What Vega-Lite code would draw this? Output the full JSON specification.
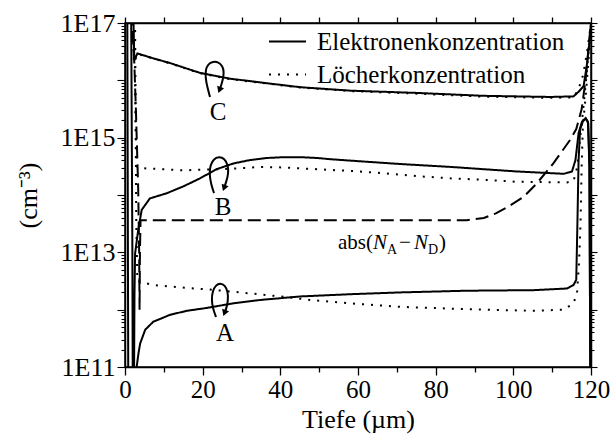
{
  "$schema": "https://vega.github.io/schema/vega-lite/v6.json",
  "width": 466,
  "height": 344,
  "autosize": {"type": "none"},
  "padding": {"left": 125, "top": 23, "right": 24, "bottom": 76},
  "background": "white",
  "title": {"text": "(a)", "fontSize": 26, "fontWeight": "normal", "color": "black", "anchor": "middle", "baseline": "alphabetic", "offset": 16, "dx": -55},
  "config": {
    "view": {"stroke": "black", "strokeWidth": 1.5},
    "font": "Liberation Serif, Times New Roman, serif",
    "axis": {"labelFont": "Liberation Serif, Times New Roman, serif", "titleFont": "Liberation Serif, Times New Roman, serif", "labelFontWeight": "normal", "titleFontWeight": "normal"},
    "legend": {"labelFont": "Liberation Serif, Times New Roman, serif", "titleFont": "Liberation Serif, Times New Roman, serif"},
    "title": {"font": "Liberation Serif, Times New Roman, serif"},
    "text": {"font": "Liberation Serif, Times New Roman, serif", "color": "black"}
  },
  "datasets": {
    "profiles": [
      {"s": "n", "c": "A", "x": 0, "y": 2e17}, {"s": "n", "c": "A", "x": 0.6, "y": 1e17}, {"s": "n", "c": "A", "x": 0.75, "y": 1e13}, {"s": "n", "c": "A", "x": 0.85, "y": 3.2e10}, {"s": "n", "c": "A", "x": 2.5, "y": 3.2e10}, {"s": "n", "c": "A", "x": 3.0, "y": 1e11}, {"s": "n", "c": "A", "x": 3.5, "y": 1.78e11}, {"s": "n", "c": "A", "x": 3.9, "y": 2.57e11}, {"s": "n", "c": "A", "x": 5.2, "y": 4.47e11}, {"s": "n", "c": "A", "x": 7.3, "y": 6.17e11}, {"s": "n", "c": "A", "x": 11.6, "y": 8.13e11}, {"s": "n", "c": "A", "x": 15.9, "y": 9.55e11}, {"s": "n", "c": "A", "x": 21, "y": 1.07e12}, {"s": "n", "c": "A", "x": 27.9, "y": 1.29e12}, {"s": "n", "c": "A", "x": 35, "y": 1.48e12}, {"s": "n", "c": "A", "x": 45.1, "y": 1.7e12}, {"s": "n", "c": "A", "x": 58, "y": 1.86e12}, {"s": "n", "c": "A", "x": 70.9, "y": 2.0e12}, {"s": "n", "c": "A", "x": 88, "y": 2.14e12}, {"s": "n", "c": "A", "x": 105.2, "y": 2.19e12}, {"s": "n", "c": "A", "x": 113.8, "y": 2.34e12}, {"s": "n", "c": "A", "x": 115.5, "y": 2.69e12}, {"s": "n", "c": "A", "x": 116.2, "y": 3.31e12}, {"s": "n", "c": "A", "x": 116.5, "y": 3.16e13}, {"s": "n", "c": "A", "x": 116.8, "y": 3.98e14}, {"s": "n", "c": "A", "x": 117.2, "y": 1.41e15}, {"s": "n", "c": "A", "x": 118, "y": 2.0e15}, {"s": "n", "c": "A", "x": 118.7, "y": 2.14e15}, {"s": "n", "c": "A", "x": 119.3, "y": 1.78e15}, {"s": "n", "c": "A", "x": 119.6, "y": 3.16e14}, {"s": "n", "c": "A", "x": 119.75, "y": 1e12}, {"s": "n", "c": "A", "x": 119.85, "y": 3.2e10},
      {"s": "n", "c": "B", "x": 0, "y": 2e17}, {"s": "n", "c": "B", "x": 1.6, "y": 1e17}, {"s": "n", "c": "B", "x": 1.9, "y": 1e13}, {"s": "n", "c": "B", "x": 2.0, "y": 3.2e10}, {"s": "n", "c": "B", "x": 2.3, "y": 3.2e10}, {"s": "n", "c": "B", "x": 2.45, "y": 2.0e12}, {"s": "n", "c": "B", "x": 2.6, "y": 9.55e12}, {"s": "n", "c": "B", "x": 3.4, "y": 2.45e13}, {"s": "n", "c": "B", "x": 4.3, "y": 5.5e13}, {"s": "n", "c": "B", "x": 6.4, "y": 8.71e13}, {"s": "n", "c": "B", "x": 10.7, "y": 1.07e14}, {"s": "n", "c": "B", "x": 15, "y": 1.41e14}, {"s": "n", "c": "B", "x": 19.3, "y": 1.95e14}, {"s": "n", "c": "B", "x": 23.6, "y": 2.82e14}, {"s": "n", "c": "B", "x": 27.9, "y": 3.55e14}, {"s": "n", "c": "B", "x": 32.2, "y": 4.07e14}, {"s": "n", "c": "B", "x": 36.5, "y": 4.42e14}, {"s": "n", "c": "B", "x": 40.8, "y": 4.57e14}, {"s": "n", "c": "B", "x": 45.1, "y": 4.57e14}, {"s": "n", "c": "B", "x": 49.4, "y": 4.42e14}, {"s": "n", "c": "B", "x": 53.7, "y": 4.17e14}, {"s": "n", "c": "B", "x": 62.3, "y": 3.8e14}, {"s": "n", "c": "B", "x": 70.9, "y": 3.47e14}, {"s": "n", "c": "B", "x": 83.8, "y": 3.09e14}, {"s": "n", "c": "B", "x": 101, "y": 2.57e14}, {"s": "n", "c": "B", "x": 113, "y": 2.34e14}, {"s": "n", "c": "B", "x": 115.1, "y": 2.57e14}, {"s": "n", "c": "B", "x": 116, "y": 4.07e14}, {"s": "n", "c": "B", "x": 116.8, "y": 1.2e15}, {"s": "n", "c": "B", "x": 117.7, "y": 1.91e15}, {"s": "n", "c": "B", "x": 118.6, "y": 2.19e15}, {"s": "n", "c": "B", "x": 119.2, "y": 1.91e15}, {"s": "n", "c": "B", "x": 119.6, "y": 3.16e14}, {"s": "n", "c": "B", "x": 119.75, "y": 1e12}, {"s": "n", "c": "B", "x": 119.85, "y": 3.2e10},
      {"s": "n", "c": "C", "x": 0, "y": 2e17}, {"s": "n", "c": "C", "x": 2.2, "y": 1e17}, {"s": "n", "c": "C", "x": 2.4, "y": 2.24e16}, {"s": "n", "c": "C", "x": 3.2, "y": 2.95e16}, {"s": "n", "c": "C", "x": 7, "y": 2.45e16}, {"s": "n", "c": "C", "x": 11.6, "y": 2.0e16}, {"s": "n", "c": "C", "x": 19.3, "y": 1.35e16}, {"s": "n", "c": "C", "x": 27, "y": 1.07e16}, {"s": "n", "c": "C", "x": 36.5, "y": 8.91e15}, {"s": "n", "c": "C", "x": 45.1, "y": 7.59e15}, {"s": "n", "c": "C", "x": 58, "y": 6.61e15}, {"s": "n", "c": "C", "x": 75.2, "y": 6.03e15}, {"s": "n", "c": "C", "x": 92.3, "y": 5.37e15}, {"s": "n", "c": "C", "x": 109.5, "y": 5.13e15}, {"s": "n", "c": "C", "x": 115.5, "y": 5.25e15}, {"s": "n", "c": "C", "x": 116.8, "y": 6.31e15}, {"s": "n", "c": "C", "x": 118.1, "y": 7.94e15}, {"s": "n", "c": "C", "x": 119, "y": 2.0e16}, {"s": "n", "c": "C", "x": 119.5, "y": 3.98e16}, {"s": "n", "c": "C", "x": 120, "y": 1e17},
      {"s": "p", "c": "A", "x": 0, "y": 2e17}, {"s": "p", "c": "A", "x": 2.6, "y": 1e17}, {"s": "p", "c": "A", "x": 2.9, "y": 3.16e13}, {"s": "p", "c": "A", "x": 3.2, "y": 3.16e12}, {"s": "p", "c": "A", "x": 7.3, "y": 2.69e12}, {"s": "p", "c": "A", "x": 15.9, "y": 2.4e12}, {"s": "p", "c": "A", "x": 21.9, "y": 2.24e12}, {"s": "p", "c": "A", "x": 29.6, "y": 2.0e12}, {"s": "p", "c": "A", "x": 40, "y": 1.7e12}, {"s": "p", "c": "A", "x": 47.7, "y": 1.48e12}, {"s": "p", "c": "A", "x": 58, "y": 1.29e12}, {"s": "p", "c": "A", "x": 70.9, "y": 1.12e12}, {"s": "p", "c": "A", "x": 88, "y": 1.02e12}, {"s": "p", "c": "A", "x": 105.2, "y": 9.55e11}, {"s": "p", "c": "A", "x": 113, "y": 1.0e12}, {"s": "p", "c": "A", "x": 115.5, "y": 1.29e12}, {"s": "p", "c": "A", "x": 116.4, "y": 1.95e12}, {"s": "p", "c": "A", "x": 116.9, "y": 6.31e12}, {"s": "p", "c": "A", "x": 117.3, "y": 3.16e13}, {"s": "p", "c": "A", "x": 117.6, "y": 3.16e14}, {"s": "p", "c": "A", "x": 117.9, "y": 1.58e15}, {"s": "p", "c": "A", "x": 118.6, "y": 5.01e15}, {"s": "p", "c": "A", "x": 119.3, "y": 2.0e16}, {"s": "p", "c": "A", "x": 120, "y": 1e17},
      {"s": "p", "c": "B", "x": 0, "y": 2e17}, {"s": "p", "c": "B", "x": 2.4, "y": 1e17}, {"s": "p", "c": "B", "x": 2.8, "y": 1e15}, {"s": "p", "c": "B", "x": 3.0, "y": 3.16e14}, {"s": "p", "c": "B", "x": 3.9, "y": 2.95e14}, {"s": "p", "c": "B", "x": 15, "y": 2.69e14}, {"s": "p", "c": "B", "x": 27.9, "y": 2.88e14}, {"s": "p", "c": "B", "x": 35, "y": 3.09e14}, {"s": "p", "c": "B", "x": 40.8, "y": 3.02e14}, {"s": "p", "c": "B", "x": 49.4, "y": 2.82e14}, {"s": "p", "c": "B", "x": 58, "y": 2.63e14}, {"s": "p", "c": "B", "x": 66.6, "y": 2.4e14}, {"s": "p", "c": "B", "x": 75, "y": 2.14e14}, {"s": "p", "c": "B", "x": 83.8, "y": 1.95e14}, {"s": "p", "c": "B", "x": 91.4, "y": 1.86e14}, {"s": "p", "c": "B", "x": 101, "y": 1.7e14}, {"s": "p", "c": "B", "x": 113.8, "y": 1.66e14}, {"s": "p", "c": "B", "x": 115.5, "y": 1.74e14}, {"s": "p", "c": "B", "x": 116.5, "y": 3.16e14}, {"s": "p", "c": "B", "x": 117.2, "y": 1e15}, {"s": "p", "c": "B", "x": 118, "y": 3.16e15}, {"s": "p", "c": "B", "x": 119, "y": 1.58e16}, {"s": "p", "c": "B", "x": 120, "y": 1e17},
      {"s": "p", "c": "C", "x": 0, "y": 2e17}, {"s": "p", "c": "C", "x": 2.0, "y": 1e17}, {"s": "p", "c": "C", "x": 2.3, "y": 2.0e16}, {"s": "p", "c": "C", "x": 3.2, "y": 2.9e16}, {"s": "p", "c": "C", "x": 7, "y": 2.43e16}, {"s": "p", "c": "C", "x": 11.6, "y": 1.98e16}, {"s": "p", "c": "C", "x": 19.3, "y": 1.33e16}, {"s": "p", "c": "C", "x": 27, "y": 1.05e16}, {"s": "p", "c": "C", "x": 36.5, "y": 8.8e15}, {"s": "p", "c": "C", "x": 45.1, "y": 7.5e15}, {"s": "p", "c": "C", "x": 58, "y": 6.5e15}, {"s": "p", "c": "C", "x": 75.2, "y": 5.85e15}, {"s": "p", "c": "C", "x": 92.3, "y": 5.2e15}, {"s": "p", "c": "C", "x": 109.5, "y": 4.95e15}, {"s": "p", "c": "C", "x": 115.5, "y": 5.05e15}, {"s": "p", "c": "C", "x": 116.8, "y": 7.08e15}, {"s": "p", "c": "C", "x": 118, "y": 1.26e16}, {"s": "p", "c": "C", "x": 119, "y": 3.16e16}, {"s": "p", "c": "C", "x": 120, "y": 1e17}
    ],
    "doping": [
      {"x": 0, "y": 3.16e17}, {"x": 1.8, "y": 1e17}, {"x": 2.4, "y": 2.0e16}, {"x": 2.8, "y": 3.16e15}, {"x": 3.1, "y": 6.31e14}, {"x": 3.4, "y": 1.26e14}, {"x": 3.65, "y": 1e13}, {"x": 3.75, "y": 1e12}, {"x": 3.85, "y": 1e13}, {"x": 4.0, "y": 3.63e13}, {"x": 88, "y": 3.63e13}, {"x": 92.4, "y": 3.98e13}, {"x": 95.5, "y": 4.79e13}, {"x": 98.3, "y": 6.03e13}, {"x": 102.7, "y": 9.33e13}, {"x": 106, "y": 1.58e14}, {"x": 110.3, "y": 3.55e14}, {"x": 114.6, "y": 9.12e14}, {"x": 116.2, "y": 1.41e15}, {"x": 117.6, "y": 3.16e15}, {"x": 118.6, "y": 1e16}, {"x": 119.4, "y": 3.98e16}, {"x": 120, "y": 1e17}
    ],
    "loops": [
      {"c": "C", "i": 0, "x": 21.89, "y": 5.13e15}, {"c": "C", "i": 1, "x": 21.25, "y": 7.36e15}, {"c": "C", "i": 2, "x": 20.73, "y": 1.10e16}, {"c": "C", "i": 3, "x": 20.73, "y": 1.51e16}, {"c": "C", "i": 4, "x": 21.38, "y": 1.93e16}, {"c": "C", "i": 5, "x": 22.66, "y": 2.13e16}, {"c": "C", "i": 6, "x": 24.08, "y": 2.09e16}, {"c": "C", "i": 7, "x": 25.11, "y": 1.78e16}, {"c": "C", "i": 8, "x": 25.50, "y": 1.40e16}, {"c": "C", "i": 9, "x": 25.24, "y": 1.05e16}, {"c": "C", "i": 10, "x": 24.72, "y": 7.96e15}, {"c": "C", "i": 11, "x": 24.34, "y": 6.79e15},
      {"c": "B", "i": 0, "x": 22.92, "y": 1.08e14}, {"c": "B", "i": 1, "x": 22.15, "y": 1.56e14}, {"c": "B", "i": 2, "x": 21.76, "y": 2.23e14}, {"c": "B", "i": 3, "x": 21.89, "y": 3.21e14}, {"c": "B", "i": 4, "x": 22.79, "y": 4.25e14}, {"c": "B", "i": 5, "x": 24.21, "y": 4.70e14}, {"c": "B", "i": 6, "x": 25.62, "y": 4.34e14}, {"c": "B", "i": 7, "x": 26.53, "y": 3.34e14}, {"c": "B", "i": 8, "x": 26.65, "y": 2.42e14}, {"c": "B", "i": 9, "x": 26.14, "y": 1.75e14}, {"c": "B", "i": 10, "x": 25.50, "y": 1.32e14},
      {"c": "A", "i": 0, "x": 23.44, "y": 7.45e11}, {"c": "A", "i": 1, "x": 22.66, "y": 1.03e12}, {"c": "A", "i": 2, "x": 22.28, "y": 1.48e12}, {"c": "A", "i": 3, "x": 22.54, "y": 2.12e12}, {"c": "A", "i": 4, "x": 23.44, "y": 2.69e12}, {"c": "A", "i": 5, "x": 24.47, "y": 2.92e12}, {"c": "A", "i": 6, "x": 25.75, "y": 2.69e12}, {"c": "A", "i": 7, "x": 26.53, "y": 2.03e12}, {"c": "A", "i": 8, "x": 26.53, "y": 1.42e12}, {"c": "A", "i": 9, "x": 26.14, "y": 1.07e12}, {"c": "A", "i": 10, "x": 25.62, "y": 8.75e11}
    ],
    "arrows": [
      {"c": "C", "x": 24.34, "y": 6.79e15}, {"c": "B", "x": 25.50, "y": 1.32e14}, {"c": "A", "x": 25.62, "y": 8.75e11}
    ],
    "cases": [
      {"txt": "C", "x": 23.95, "y": 2.81e15}, {"txt": "B", "x": 25.24, "y": 6.18e13}, {"txt": "A", "x": 25.75, "y": 3.92e11}
    ],
    "formula": [
      {"txt": "abs(", "k": "r", "x": 54.85, "y": 1.14e13}, {"txt": "N", "k": "i", "x": 63.87, "y": 1.14e13}, {"txt": "A", "k": "s", "x": 67.47, "y": 9.35e12}, {"txt": "−", "k": "r", "x": 70.56, "y": 1.14e13}, {"txt": "N", "k": "i", "x": 74.43, "y": 1.14e13}, {"txt": "D", "k": "s", "x": 78.03, "y": 9.35e12}, {"txt": ")", "k": "r", "x": 80.87, "y": 1.14e13}
    ]
  },
  "layer": [
    {
      "data": {"name": "profiles"},
      "mark": {"type": "line", "clip": true, "color": "black", "strokeWidth": 2},
      "encoding": {
        "x": {"field": "x", "type": "quantitative", "scale": {"domain": [0, 120], "nice": false, "zero": false},
          "axis": {"orient": "bottom", "values": [0, 10, 20, 30, 40, 50, 60, 70, 80, 90, 100, 110, 120],
            "labelExpr": "datum.value % 20 == 0 ? datum.label : ''",
            "tickSize": {"condition": {"test": "datum.value % 20 == 0", "value": 8}, "value": 5},
            "grid": false, "domainColor": "black", "domainWidth": 1.5, "tickColor": "black", "tickWidth": 1.3,
            "labelFont": "Liberation Serif, Times New Roman, serif", "labelFontSize": 25, "labelColor": "black", "labelPadding": 2, "labelFlush": false,
            "title": "Tiefe (µm)", "titleFont": "Liberation Serif, Times New Roman, serif", "titleFontSize": 26, "titleFontWeight": "normal", "titleColor": "black", "titlePadding": 4}},
        "y": {"field": "y", "type": "quantitative", "scale": {"type": "log", "domain": [1e11, 1e17], "nice": false},
          "axis": {"orient": "left",
            "values": [1e11, 2e11, 3e11, 4e11, 5e11, 6e11, 7e11, 8e11, 9e11, 1e12, 2e12, 3e12, 4e12, 5e12, 6e12, 7e12, 8e12, 9e12, 1e13, 2e13, 3e13, 4e13, 5e13, 6e13, 7e13, 8e13, 9e13, 1e14, 2e14, 3e14, 4e14, 5e14, 6e14, 7e14, 8e14, 9e14, 1e15, 2e15, 3e15, 4e15, 5e15, 6e15, 7e15, 8e15, 9e15, 1e16, 2e16, 3e16, 4e16, 5e16, 6e16, 7e16, 8e16, 9e16, 1e17],
            "labelExpr": "abs(log(datum.value)/LN10 - round(log(datum.value)/LN10)) < 0.001 && round(log(datum.value)/LN10) % 2 == 1 ? '1E' + round(log(datum.value)/LN10) : ''",
            "tickSize": {"condition": {"test": "abs(log(datum.value)/LN10 - round(log(datum.value)/LN10)) < 0.001", "value": 8}, "value": 4},
            "grid": false, "domainColor": "black", "domainWidth": 1.5, "tickColor": "black", "tickWidth": 1.1,
            "labelFont": "Liberation Serif, Times New Roman, serif", "labelFontSize": 26, "labelColor": "black", "labelPadding": 2, "labelFlush": false, "labelOverlap": false,
            "title": "(cm⁻³)", "titleFont": "Liberation Serif, Times New Roman, serif", "titleFontSize": 26, "titleFontWeight": "normal", "titleColor": "black", "titlePadding": 19}},
        "detail": {"field": "c", "type": "nominal"},
        "strokeDash": {"field": "s", "type": "nominal",
          "scale": {"domain": ["n", "p"], "range": [[1, 0], [2, 7]]},
          "legend": {"orient": "none", "legendX": 143, "legendY": -1, "title": null, "padding": 0,
            "labelExpr": "datum.label == 'n' ? 'Elektronenkonzentration' : 'Löcherkonzentration'",
            "symbolType": "stroke", "symbolSize": 1369, "symbolStrokeWidth": 2, "symbolStrokeColor": "black", "symbolOpacity": 1,
            "labelFont": "Liberation Serif, Times New Roman, serif", "labelFontSize": 25, "labelColor": "black", "labelOffset": 10, "labelLimit": 400, "rowPadding": -10}}
      }
    },
    {
      "data": {"name": "doping"},
      "mark": {"type": "line", "clip": true, "color": "black", "strokeWidth": 2, "strokeDash": [13, 6]},
      "encoding": {
        "x": {"field": "x", "type": "quantitative", "scale": {"domain": [0, 120], "nice": false, "zero": false},
          "axis": {"orient": "top", "values": [0, 10, 20, 30, 40, 50, 60, 70, 80, 90, 100, 110, 120], "labels": false, "tickSize": 6, "grid": false, "domainColor": "black", "domainWidth": 1.5, "tickColor": "black", "tickWidth": 1.3, "title": null}},
        "y": {"field": "y", "type": "quantitative", "scale": {"type": "log", "domain": [1e11, 1e17], "nice": false},
          "axis": {"orient": "right",
            "values": [1e11, 2e11, 3e11, 4e11, 5e11, 6e11, 7e11, 8e11, 9e11, 1e12, 2e12, 3e12, 4e12, 5e12, 6e12, 7e12, 8e12, 9e12, 1e13, 2e13, 3e13, 4e13, 5e13, 6e13, 7e13, 8e13, 9e13, 1e14, 2e14, 3e14, 4e14, 5e14, 6e14, 7e14, 8e14, 9e14, 1e15, 2e15, 3e15, 4e15, 5e15, 6e15, 7e15, 8e15, 9e15, 1e16, 2e16, 3e16, 4e16, 5e16, 6e16, 7e16, 8e16, 9e16, 1e17],
            "labels": false, "grid": false, "domainColor": "black", "domainWidth": 1.5, "tickColor": "black", "tickWidth": 1.1,
            "tickSize": {"condition": {"test": "abs(log(datum.value)/LN10 - round(log(datum.value)/LN10)) < 0.001", "value": 6}, "value": 3},
            "title": null}}
      }
    },
    {
      "data": {"name": "loops"},
      "mark": {"type": "line", "color": "black", "strokeWidth": 2, "interpolate": "basis"},
      "encoding": {
        "x": {"field": "x", "type": "quantitative", "scale": {"domain": [0, 120], "nice": false, "zero": false}, "axis": null},
        "y": {"field": "y", "type": "quantitative", "scale": {"type": "log", "domain": [1e11, 1e17], "nice": false}, "axis": null},
        "detail": {"field": "c", "type": "nominal"},
        "order": {"field": "i", "type": "quantitative"}
      }
    },
    {
      "data": {"name": "arrows"},
      "mark": {"type": "point", "shape": "triangle-down", "filled": true, "color": "black", "size": 55, "angle": 20, "opacity": 1},
      "encoding": {
        "x": {"field": "x", "type": "quantitative", "scale": {"domain": [0, 120], "nice": false, "zero": false}, "axis": null},
        "y": {"field": "y", "type": "quantitative", "scale": {"type": "log", "domain": [1e11, 1e17], "nice": false}, "axis": null}
      }
    },
    {
      "data": {"name": "cases"},
      "mark": {"type": "text", "font": "Liberation Serif, Times New Roman, serif", "fontSize": 25, "color": "black", "align": "center", "baseline": "middle"},
      "encoding": {
        "x": {"field": "x", "type": "quantitative", "scale": {"domain": [0, 120], "nice": false, "zero": false}, "axis": null},
        "y": {"field": "y", "type": "quantitative", "scale": {"type": "log", "domain": [1e11, 1e17], "nice": false}, "axis": null},
        "text": {"field": "txt"}
      }
    },
    {
      "data": {"name": "formula"},
      "transform": [{"filter": "datum.k == 'r'"}],
      "mark": {"type": "text", "font": "Liberation Serif, Times New Roman, serif", "fontSize": 21, "color": "black", "align": "left", "baseline": "alphabetic"},
      "encoding": {
        "x": {"field": "x", "type": "quantitative", "scale": {"domain": [0, 120], "nice": false, "zero": false}, "axis": null},
        "y": {"field": "y", "type": "quantitative", "scale": {"type": "log", "domain": [1e11, 1e17], "nice": false}, "axis": null},
        "text": {"field": "txt"}
      }
    },
    {
      "data": {"name": "formula"},
      "transform": [{"filter": "datum.k == 'i'"}],
      "mark": {"type": "text", "font": "Liberation Serif, Times New Roman, serif", "fontSize": 21, "fontStyle": "italic", "color": "black", "align": "left", "baseline": "alphabetic"},
      "encoding": {
        "x": {"field": "x", "type": "quantitative", "scale": {"domain": [0, 120], "nice": false, "zero": false}, "axis": null},
        "y": {"field": "y", "type": "quantitative", "scale": {"type": "log", "domain": [1e11, 1e17], "nice": false}, "axis": null},
        "text": {"field": "txt"}
      }
    },
    {
      "data": {"name": "formula"},
      "transform": [{"filter": "datum.k == 's'"}],
      "mark": {"type": "text", "font": "Liberation Serif, Times New Roman, serif", "fontSize": 14, "color": "black", "align": "left", "baseline": "alphabetic"},
      "encoding": {
        "x": {"field": "x", "type": "quantitative", "scale": {"domain": [0, 120], "nice": false, "zero": false}, "axis": null},
        "y": {"field": "y", "type": "quantitative", "scale": {"type": "log", "domain": [1e11, 1e17], "nice": false}, "axis": null},
        "text": {"field": "txt"}
      }
    }
  ],
  "resolve": {"axis": {"x": "independent", "y": "independent"}}
}
